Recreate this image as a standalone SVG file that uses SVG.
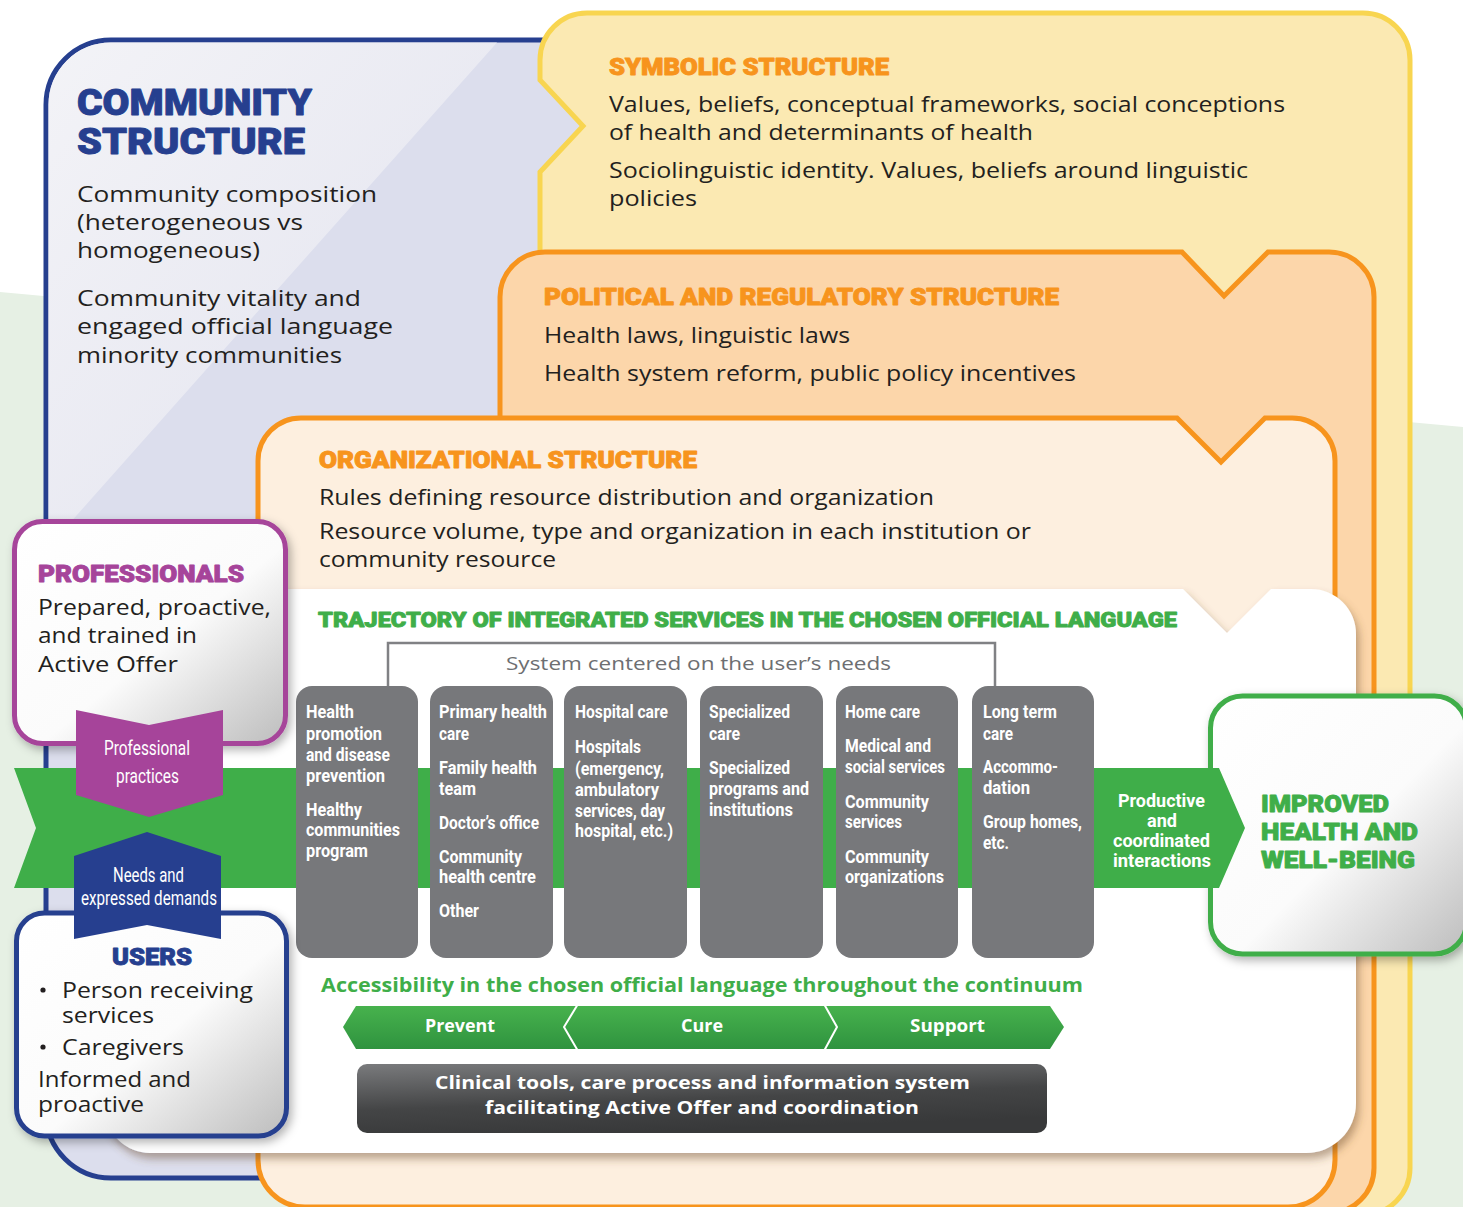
<svg xmlns="http://www.w3.org/2000/svg" width="1463" height="1207" viewBox="0 0 1463 1207">
  <defs>
    <style>
      .body { font-family: "Open Sans", "Noto Sans", sans-serif; font-size: 22.5px; fill: #231f20; }
      .hv { font-family: Roboto, "Noto Sans", sans-serif; font-weight: 900; stroke-width: 0.9px; stroke-linejoin: round; }
      .blue { fill: #263f8f; stroke: #263f8f; }
      .orange { fill: #f7941d; stroke: #f7941d; }
      .green { fill: #3fae49; stroke: #3fae49; }
      .purple { fill: #a6449a; stroke: #a6449a; }
      .cd { font-family: Roboto, "Noto Sans", sans-serif; font-weight: 700; font-size: 18.5px; fill: #ffffff; }
      .cdr { font-family: Roboto, "Noto Sans", sans-serif; font-weight: 400; font-size: 20px; fill: #ffffff; }
      .os { font-family: "Open Sans", "Noto Sans", sans-serif; }
      .col { fill: #77787b; }
    </style>
    <linearGradient id="sheen" x1="0" y1="0" x2="1" y2="1">
      <stop offset="0" stop-color="#f3f3f7"/>
      <stop offset="1" stop-color="#e1e2ee"/>
    </linearGradient>
    <linearGradient id="card" x1="0" y1="0" x2="1" y2="1">
      <stop offset="0" stop-color="#ffffff"/>
      <stop offset="0.55" stop-color="#fbfbfb"/>
      <stop offset="1" stop-color="#bdbdbd"/>
    </linearGradient>
    <linearGradient id="chev" x1="0" y1="0" x2="0" y2="1">
      <stop offset="0" stop-color="#47b24d"/>
      <stop offset="1" stop-color="#2f933f"/>
    </linearGradient>
    <linearGradient id="dark" x1="0" y1="0" x2="0.35" y2="1">
      <stop offset="0" stop-color="#7a7b7d"/>
      <stop offset="0.6" stop-color="#444546"/>
      <stop offset="1" stop-color="#38393a"/>
    </linearGradient>
    <filter id="shadow" x="-10%" y="-10%" width="125%" height="130%">
      <feDropShadow dx="3" dy="4" stdDeviation="5" flood-color="#000000" flood-opacity="0.3"/>
    </filter>
    <filter id="panelShadow" x="-5%" y="-5%" width="115%" height="115%">
      <feDropShadow dx="3" dy="6" stdDeviation="4" flood-color="#6b4a2a" flood-opacity="0.45"/>
    </filter>
  </defs>

  <!-- background -->
  <rect width="1463" height="1207" fill="#ffffff"/>
  <path d="M0 292 L1463 427 V1207 H0 Z" fill="#e6f0e4"/>

  <!-- community structure -->
  <g id="community">
    <path d="M111 40 H600 V1178 H111 A65 65 0 0 1 46 1113 V105 A65 65 0 0 1 111 40 Z" fill="#dcdeed" stroke="#263f8f" stroke-width="5"/>
    <path d="M111 42.5 H497 L48.5 547 V105 A62 62 0 0 1 111 42.5 Z" fill="url(#sheen)"/>
    <text class="hv blue" x="77" y="115" font-size="36" textLength="235" lengthAdjust="spacingAndGlyphs">COMMUNITY</text>
    <text class="hv blue" x="77" y="154" font-size="36" textLength="228" lengthAdjust="spacingAndGlyphs">STRUCTURE</text>
    <text class="body" font-size="23.5" x="77" y="202" textLength="300" lengthAdjust="spacingAndGlyphs">Community composition</text>
    <text class="body" font-size="23.5" x="77" y="230" textLength="226" lengthAdjust="spacingAndGlyphs">(heterogeneous vs</text>
    <text class="body" font-size="23.5" x="77" y="258" textLength="183" lengthAdjust="spacingAndGlyphs">homogeneous)</text>
    <text class="body" font-size="23.5" x="77" y="306" textLength="284" lengthAdjust="spacingAndGlyphs">Community vitality and</text>
    <text class="body" font-size="23.5" x="77" y="334" textLength="316" lengthAdjust="spacingAndGlyphs">engaged official language</text>
    <text class="body" font-size="23.5" x="77" y="363" textLength="265" lengthAdjust="spacingAndGlyphs">minority communities</text>
  </g>

  <!-- symbolic structure -->
  <g id="symbolic">
    <path d="M587 13 H1363 A47 47 0 0 1 1410 60 V1168 A47 47 0 0 1 1363 1215 H587 A47 47 0 0 1 540 1168 V172 L583 126 L540 80 V60 A47 47 0 0 1 587 13 Z" fill="#fbe9b2" stroke="#f8d550" stroke-width="5"/>
    <text class="hv orange" x="609" y="75" font-size="23" textLength="280" lengthAdjust="spacingAndGlyphs">SYMBOLIC STRUCTURE</text>
    <text class="body" x="609" y="112" textLength="676" lengthAdjust="spacingAndGlyphs">Values, beliefs, conceptual frameworks, social conceptions</text>
    <text class="body" x="609" y="140" textLength="424" lengthAdjust="spacingAndGlyphs">of health and determinants of health</text>
    <text class="body" x="609" y="178" textLength="639" lengthAdjust="spacingAndGlyphs">Sociolinguistic identity. Values, beliefs around linguistic</text>
    <text class="body" x="609" y="206" textLength="88" lengthAdjust="spacingAndGlyphs">policies</text>
  </g>

  <!-- political and regulatory structure -->
  <g id="political">
    <path d="M545 252 H1182 L1224 296 L1268 252 H1329 A45 45 0 0 1 1374 297 V1168 A45 45 0 0 1 1329 1213 H545 A45 45 0 0 1 500 1168 V297 A45 45 0 0 1 545 252 Z" fill="#fcd6aa" stroke="#f7941d" stroke-width="5"/>
    <text class="hv orange" x="544" y="305" font-size="23" textLength="515" lengthAdjust="spacingAndGlyphs">POLITICAL AND REGULATORY STRUCTURE</text>
    <text class="body" x="544" y="343" textLength="306" lengthAdjust="spacingAndGlyphs">Health laws, linguistic laws</text>
    <text class="body" x="544" y="381" textLength="532" lengthAdjust="spacingAndGlyphs">Health system reform, public policy incentives</text>
  </g>

  <!-- organizational structure -->
  <g id="organizational">
    <path d="M301 418 H1177 L1221 462 L1265 418 H1292 A43 43 0 0 1 1335 461 V1160 A47 47 0 0 1 1288 1207 H305 A47 47 0 0 1 258 1160 V461 A43 43 0 0 1 301 418 Z" fill="#fdefdf" stroke="#f7941d" stroke-width="5"/>
    <text class="hv orange" x="319" y="468" font-size="23" textLength="378" lengthAdjust="spacingAndGlyphs">ORGANIZATIONAL STRUCTURE</text>
    <text class="body" x="319" y="505" textLength="615" lengthAdjust="spacingAndGlyphs">Rules defining resource distribution and organization</text>
    <text class="body" x="319" y="539" textLength="712" lengthAdjust="spacingAndGlyphs">Resource volume, type and organization in each institution or</text>
    <text class="body" x="319" y="567" textLength="237" lengthAdjust="spacingAndGlyphs">community resource</text>
  </g>

  <!-- trajectory of integrated services -->
  <g id="trajectory">
    <path d="M150 589 H1183 L1227 633 L1271 589 H1311 A45 45 0 0 1 1356 634 V1103 A50 50 0 0 1 1306 1153 H150 A45 45 0 0 1 105 1108 V634 A45 45 0 0 1 150 589 Z" fill="#ffffff" filter="url(#panelShadow)"/>
    <text class="hv green" x="318" y="627" font-size="21" textLength="859" lengthAdjust="spacingAndGlyphs">TRAJECTORY OF INTEGRATED SERVICES IN THE CHOSEN OFFICIAL LANGUAGE</text>
    <path d="M388 686 V643 H995 V686" fill="none" stroke="#808184" stroke-width="2.5"/>
    <text class="os" x="506" y="670" font-size="19" fill="#6d6e71" textLength="385" lengthAdjust="spacingAndGlyphs">System centered on the user’s needs</text>
  </g>

  <!-- improved health outcome -->
  <g id="improved">
    <rect x="1210.5" y="696" width="256" height="258" rx="32" fill="url(#card)" stroke="#3fae49" stroke-width="5" filter="url(#shadow)"/>
    <text class="hv green" x="1261" y="812" font-size="24" textLength="128" lengthAdjust="spacingAndGlyphs">IMPROVED</text>
    <text class="hv green" x="1261" y="840" font-size="24" textLength="157" lengthAdjust="spacingAndGlyphs">HEALTH AND</text>
    <text class="hv green" x="1261" y="868" font-size="24" textLength="154" lengthAdjust="spacingAndGlyphs">WELL-BEING</text>
  </g>

  <!-- connectors: continuum band towards the outcome -->
  <g id="connectors">
    <path d="M14 768 H1219 L1245 828 L1219 888 H14 L36 828 Z" fill="#3fae49"/>
    <text class="cd" font-size="20" x="1118" y="807" textLength="87" lengthAdjust="spacingAndGlyphs">Productive</text>
    <text class="cd" font-size="20" x="1147" y="827" textLength="30" lengthAdjust="spacingAndGlyphs">and</text>
    <text class="cd" font-size="20" x="1113" y="847" textLength="97" lengthAdjust="spacingAndGlyphs">coordinated</text>
    <text class="cd" font-size="20" x="1113" y="867" textLength="98" lengthAdjust="spacingAndGlyphs">interactions</text>
  </g>

  <!-- service columns -->
  <g id="col-prevention">
    <rect class="col" x="296" y="686" width="122" height="272" rx="16"/>
    <text class="cd" x="306" y="718" textLength="48" lengthAdjust="spacingAndGlyphs">Health</text>
    <text class="cd" x="306" y="740" textLength="76" lengthAdjust="spacingAndGlyphs">promotion</text>
    <text class="cd" x="306" y="761" textLength="84" lengthAdjust="spacingAndGlyphs">and disease</text>
    <text class="cd" x="306" y="782" textLength="79" lengthAdjust="spacingAndGlyphs">prevention</text>
    <text class="cd" x="306" y="816" textLength="56" lengthAdjust="spacingAndGlyphs">Healthy</text>
    <text class="cd" x="306" y="836" textLength="94" lengthAdjust="spacingAndGlyphs">communities</text>
    <text class="cd" x="306" y="857" textLength="62" lengthAdjust="spacingAndGlyphs">program</text>
  </g>
  <g id="col-primary">
    <rect class="col" x="430" y="686" width="123" height="272" rx="16"/>
    <text class="cd" x="439" y="718" textLength="108" lengthAdjust="spacingAndGlyphs">Primary health</text>
    <text class="cd" x="439" y="740" textLength="30" lengthAdjust="spacingAndGlyphs">care</text>
    <text class="cd" x="439" y="774" textLength="98" lengthAdjust="spacingAndGlyphs">Family health</text>
    <text class="cd" x="439" y="795" textLength="37" lengthAdjust="spacingAndGlyphs">team</text>
    <text class="cd" x="439" y="829" textLength="100" lengthAdjust="spacingAndGlyphs">Doctor’s office</text>
    <text class="cd" x="439" y="863" textLength="83" lengthAdjust="spacingAndGlyphs">Community</text>
    <text class="cd" x="439" y="883" textLength="97" lengthAdjust="spacingAndGlyphs">health centre</text>
    <text class="cd" x="439" y="917" textLength="40" lengthAdjust="spacingAndGlyphs">Other</text>
  </g>
  <g id="col-hospital">
    <rect class="col" x="564" y="686" width="123" height="272" rx="16"/>
    <text class="cd" x="575" y="718" textLength="93" lengthAdjust="spacingAndGlyphs">Hospital care</text>
    <text class="cd" x="575" y="753" textLength="66" lengthAdjust="spacingAndGlyphs">Hospitals</text>
    <text class="cd" x="575" y="775" textLength="89" lengthAdjust="spacingAndGlyphs">(emergency,</text>
    <text class="cd" x="575" y="796" textLength="84" lengthAdjust="spacingAndGlyphs">ambulatory</text>
    <text class="cd" x="575" y="817" textLength="90" lengthAdjust="spacingAndGlyphs">services, day</text>
    <text class="cd" x="575" y="837" textLength="98" lengthAdjust="spacingAndGlyphs">hospital, etc.)</text>
  </g>
  <g id="col-specialized">
    <rect class="col" x="700" y="686" width="123" height="272" rx="16"/>
    <text class="cd" x="709" y="718" textLength="81" lengthAdjust="spacingAndGlyphs">Specialized</text>
    <text class="cd" x="709" y="740" textLength="31" lengthAdjust="spacingAndGlyphs">care</text>
    <text class="cd" x="709" y="774" textLength="81" lengthAdjust="spacingAndGlyphs">Specialized</text>
    <text class="cd" x="709" y="795" textLength="100" lengthAdjust="spacingAndGlyphs">programs and</text>
    <text class="cd" x="709" y="816" textLength="84" lengthAdjust="spacingAndGlyphs">institutions</text>
  </g>
  <g id="col-home">
    <rect class="col" x="836" y="686" width="122" height="272" rx="16"/>
    <text class="cd" x="845" y="718" textLength="75" lengthAdjust="spacingAndGlyphs">Home care</text>
    <text class="cd" x="845" y="752" textLength="86" lengthAdjust="spacingAndGlyphs">Medical and</text>
    <text class="cd" x="845" y="773" textLength="100" lengthAdjust="spacingAndGlyphs">social services</text>
    <text class="cd" x="845" y="808" textLength="84" lengthAdjust="spacingAndGlyphs">Community</text>
    <text class="cd" x="845" y="828" textLength="57" lengthAdjust="spacingAndGlyphs">services</text>
    <text class="cd" x="845" y="863" textLength="84" lengthAdjust="spacingAndGlyphs">Community</text>
    <text class="cd" x="845" y="883" textLength="99" lengthAdjust="spacingAndGlyphs">organizations</text>
  </g>
  <g id="col-longterm">
    <rect class="col" x="972" y="686" width="122" height="272" rx="16"/>
    <text class="cd" x="983" y="718" textLength="74" lengthAdjust="spacingAndGlyphs">Long term</text>
    <text class="cd" x="983" y="740" textLength="30" lengthAdjust="spacingAndGlyphs">care</text>
    <text class="cd" x="983" y="773" textLength="75" lengthAdjust="spacingAndGlyphs">Accommo-</text>
    <text class="cd" x="983" y="794" textLength="47" lengthAdjust="spacingAndGlyphs">dation</text>
    <text class="cd" x="983" y="828" textLength="99" lengthAdjust="spacingAndGlyphs">Group homes,</text>
    <text class="cd" x="983" y="849" textLength="26" lengthAdjust="spacingAndGlyphs">etc.</text>
  </g>

  <!-- continuum of care -->
  <g id="continuum">
    <text class="os" font-weight="700" font-size="20" fill="#3fae49" x="321" y="992" textLength="762" lengthAdjust="spacingAndGlyphs">Accessibility in the chosen official language throughout the continuum</text>
    <path d="M356 1006 H1050 L1064 1027 L1050 1049 H356 L343 1027 Z" fill="url(#chev)"/>
    <path d="M578 1004 L564 1027 L578 1051 M824 1004 L837 1027 L824 1051" fill="none" stroke="#ffffff" stroke-width="2"/>
    <text class="cd os" font-size="17" x="425" y="1032" textLength="70" lengthAdjust="spacingAndGlyphs">Prevent</text>
    <text class="cd os" font-size="17" x="681" y="1032" textLength="42" lengthAdjust="spacingAndGlyphs">Cure</text>
    <text class="cd os" font-size="17" x="910" y="1032" textLength="75" lengthAdjust="spacingAndGlyphs">Support</text>
  </g>
  <g id="tools">
    <rect x="357" y="1064" width="690" height="69" rx="10" fill="url(#dark)"/>
    <text class="cd os" font-size="19" x="435" y="1089" textLength="535" lengthAdjust="spacingAndGlyphs">Clinical tools, care process and information system</text>
    <text class="cd os" font-size="19" x="485" y="1114" textLength="434" lengthAdjust="spacingAndGlyphs">facilitating Active Offer and coordination</text>
  </g>

  <!-- professionals -->
  <g id="professionals">
    <rect x="14.5" y="521.5" width="271" height="222" rx="28" fill="url(#card)" stroke="#a6449a" stroke-width="5" filter="url(#shadow)"/>
    <text class="hv purple" x="38" y="582" font-size="23" textLength="206" lengthAdjust="spacingAndGlyphs">PROFESSIONALS</text>
    <text class="body" x="38" y="615" textLength="233" lengthAdjust="spacingAndGlyphs">Prepared, proactive,</text>
    <text class="body" x="38" y="643" textLength="159" lengthAdjust="spacingAndGlyphs">and trained in</text>
    <text class="body" x="38" y="672" textLength="140" lengthAdjust="spacingAndGlyphs">Active Offer</text>
  </g>

  <!-- users -->
  <g id="users">
    <rect x="16.5" y="913" width="270" height="223" rx="28" fill="url(#card)" stroke="#263f8f" stroke-width="5" filter="url(#shadow)"/>
    <text class="hv blue" x="112" y="965" font-size="23" textLength="80" lengthAdjust="spacingAndGlyphs">USERS</text>
    <circle cx="43" cy="990" r="2.6" fill="#231f20"/>
    <text class="body" font-size="21.5" x="62" y="998" textLength="191" lengthAdjust="spacingAndGlyphs">Person receiving</text>
    <text class="body" font-size="21.5" x="62" y="1023" textLength="92" lengthAdjust="spacingAndGlyphs">services</text>
    <circle cx="43" cy="1047" r="2.6" fill="#231f20"/>
    <text class="body" font-size="21.5" x="62" y="1055" textLength="122" lengthAdjust="spacingAndGlyphs">Caregivers</text>
    <text class="body" font-size="21.5" x="38" y="1087" textLength="153" lengthAdjust="spacingAndGlyphs">Informed and</text>
    <text class="body" font-size="21.5" x="38" y="1112" textLength="106" lengthAdjust="spacingAndGlyphs">proactive</text>
  </g>

  <!-- professional practices chevron -->
  <g id="practices">
    <path d="M76 710 L149 725 L223 710 V795 L149 817 L76 795 Z" fill="#a6449a"/>
    <text class="cdr" x="104" y="755" textLength="86" lengthAdjust="spacingAndGlyphs">Professional</text>
    <text class="cdr" x="116" y="783" textLength="63" lengthAdjust="spacingAndGlyphs">practices</text>
  </g>

  <!-- needs and expressed demands chevron -->
  <g id="demands">
    <path d="M74 856 L147 832 L221 856 V939 L147 925 L74 939 Z" fill="#263f8f"/>
    <text class="cdr" font-size="19.5" x="113" y="882" textLength="71" lengthAdjust="spacingAndGlyphs">Needs and</text>
    <text class="cdr" font-size="19.5" x="81" y="905" textLength="136" lengthAdjust="spacingAndGlyphs">expressed demands</text>
  </g>
</svg>
